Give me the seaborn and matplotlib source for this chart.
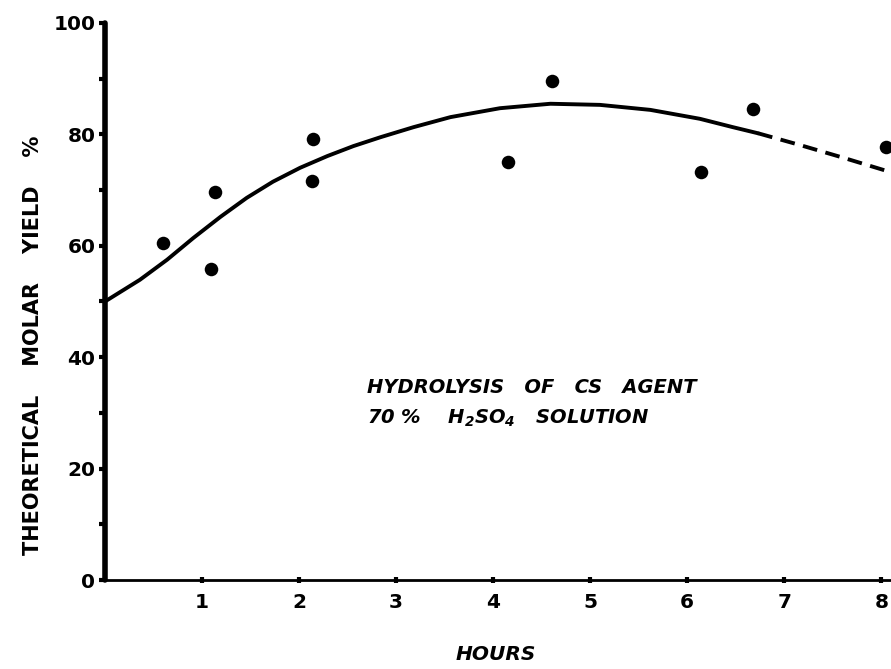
import numpy as np
import pandas as pd
import matplotlib
matplotlib.use("Agg")
import matplotlib.pyplot as plt
import seaborn as sns
from matplotlib.ticker import MultipleLocator

# 数据
hours_pts = [0.60, 1.13, 1.09, 2.14, 2.13, 4.15, 4.61, 6.14, 6.68, 8.05]
yield_pts = [60.5, 69.7, 55.8, 79.2, 71.6, 75.0, 89.6, 73.2, 84.6, 77.7]

# 拟合曲线（实线部分）
curve_x = [0.0, 0.36, 0.64, 0.91, 1.19, 1.46, 1.73, 2.01, 2.29, 2.56, 2.84, 3.18,
           3.56, 4.07, 4.59, 5.10, 5.62, 6.13, 6.47, 6.73]
curve_y = [50.0, 53.9, 57.5, 61.4, 65.2, 68.6, 71.5, 74.0, 76.1, 77.9, 79.5, 81.3,
           83.1, 84.7, 85.5, 85.3, 84.4, 82.8, 81.3, 80.2]

# 外推部分（虚线）
dash_x = [6.73, 7.16, 7.61, 8.12]
dash_y = [80.2, 78.1, 75.8, 73.1]

x_ticks = [1, 2, 3, 4, 5, 6, 7, 8]
y_ticks = [0, 20, 40, 60, 80, 100]

sns.set_style("ticks")
plt.rcParams['font.family'] = ['DejaVu Sans']
plt.rcParams['mathtext.default'] = 'regular'
for key in ['text.color', 'axes.labelcolor', 'xtick.color', 'ytick.color',
            'axes.edgecolor']:
    plt.rcParams[key] = 'black'

fig = plt.figure(figsize=(8.91, 6.69), dpi=100)
ax = fig.add_axes([105 / 891, 89 / 669, 1 - 105 / 891, 0.8326])

df_curve = pd.DataFrame({'x': curve_x, 'y': curve_y})
df_dash = pd.DataFrame({'x': dash_x, 'y': dash_y})
df_pts = pd.DataFrame({'x': hours_pts, 'y': yield_pts})

sns.lineplot(data=df_curve, x='x', y='y', color='black', lw=2.8, sort=False, ax=ax)
sns.lineplot(data=df_dash, x='x', y='y', color='black', lw=2.8, sort=False, ax=ax,
             linestyle=(0, (3.8, 2.2)))
sns.scatterplot(data=df_pts, x='x', y='y', color='black', s=95, edgecolor='black',
                linewidth=0, ax=ax, zorder=5)

ax.set_xlim(0, 8.1)
ax.set_ylim(0, 100)
ax.set_xticks(x_ticks)
ax.set_yticks(y_ticks)
ax.yaxis.set_minor_locator(MultipleLocator(10))
ax.set_xlabel('')
ax.set_ylabel('')

for lab in ax.get_xticklabels() + ax.get_yticklabels():
    lab.set_fontweight('bold')
    lab.set_fontsize(14.5)

ax.tick_params(axis='y', which='major', direction='out', length=4, width=3, pad=3)
ax.tick_params(axis='y', which='minor', direction='out', length=4, width=3)
ax.tick_params(axis='x', which='major', direction='inout', length=5, width=3, pad=7)

sns.despine(ax=ax)
ax.spines['left'].set_linewidth(4)
ax.spines['bottom'].set_linewidth(2)
ax.spines['left'].set_capstyle('round')

# 注释文字
ax.text(2.70, 34.5, 'HYDROLYSIS   OF   CS   AGENT', fontsize=14, fontweight='bold',
        style='italic', ha='left', va='center')
ax.text(2.70, 29.1, r'70 %    H$_2$SO$_4$   SOLUTION', fontsize=14, fontweight='bold',
        style='italic', ha='left', va='center')

# 坐标轴标题
fig.text(33 / 891, 1 - 345 / 669, 'THEORETICAL    MOLAR    YIELD    %', rotation=90,
         ha='center', va='center', fontsize=15, fontweight='bold')
fig.text(496 / 891, 1 - 654 / 669, 'HOURS', ha='center', va='center',
         fontsize=14.5, fontweight='bold', style='italic')

fig.savefig('out.png', dpi=100)
